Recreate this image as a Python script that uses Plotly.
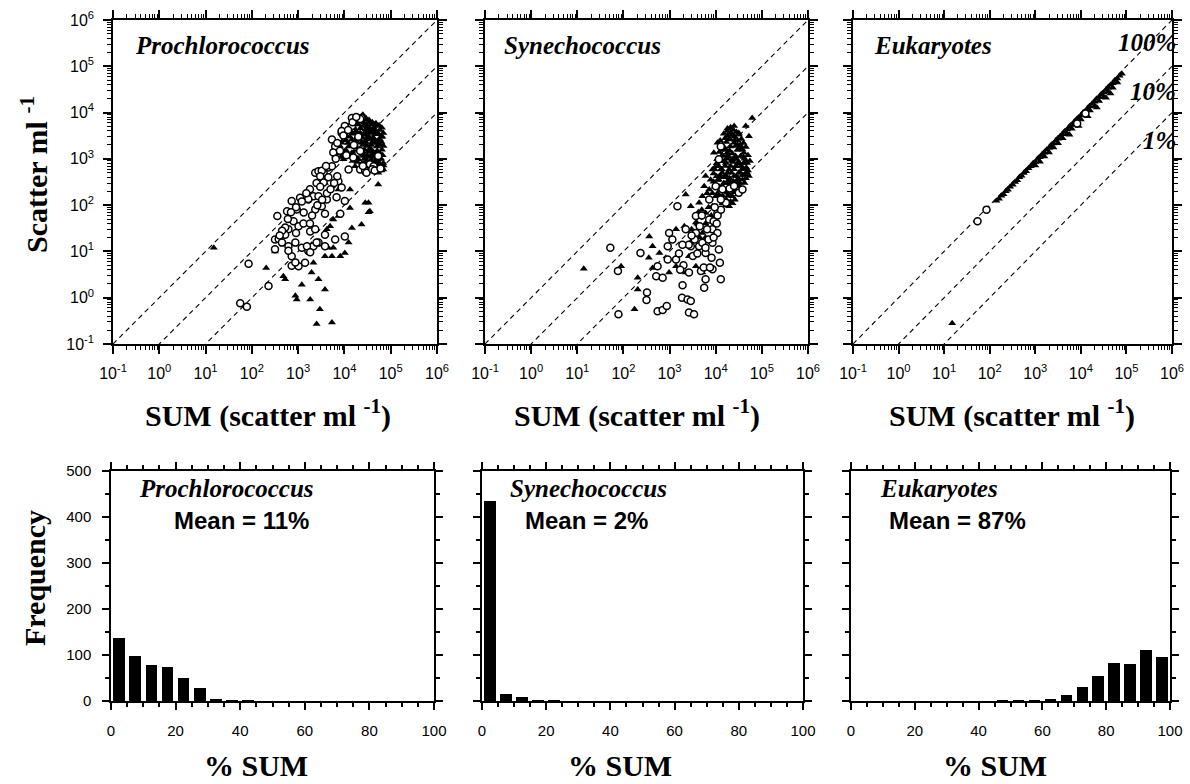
import plotly.graph_objects as go

# ------------------------------------------------------------------ data
log_tickvals = [1e-1, 1e0, 1e1, 1e2, 1e3, 1e4, 1e5, 1e6]
log_ticktext = ["10<sup>-1</sup>", "10<sup>0</sup>", "10<sup>1</sup>", "10<sup>2</sup>",
                "10<sup>3</sup>", "10<sup>4</sup>", "10<sup>5</sup>", "10<sup>6</sup>"]
ref_fracs = [1.0, 0.1, 0.01]          # 100 %, 10 %, 1 % reference lines
ref_x = [1e-1, 1e6]
ref_labels = ["100%", "10%", "1%"]

panel_names = ["Prochlorococcus", "Synechococcus", "Eukaryotes"]
mean_labels = ["Mean = 11%", "Mean = 2%", "Mean = 87%"]

# Prochlorococcus: open circles (x = SUM, y = scatter)
pro_open = [(355, 58), (575, 74), (725, 123), (1100, 145), (1660, 132), (2140, 155), (2750, 155),
            (3240, 95), (4170, 132), (10200, 123), (2340, 500), (2750, 540), (3550, 500), (4470, 650),
            (5370, 690), (7410, 330), (12300, 590), (21900, 590), (28200, 540), (35500, 760),
            (42700, 690), (617, 30), (794, 45), (1020, 35), (1820, 27), (2340, 30), (3800, 23),
            (6310, 18), (10200, 21), (617, 13), (870, 15.5), (1200, 12), (1660, 10.2), (2140, 13),
            (2750, 15.5), (725, 7.9), (1020, 4.8), (1410, 5.7), (316, 18), (525, 23), (5370, 2630),
            (6310, 1860), (8710, 3630), (14500, 5130), (20000, 1350), (53700, 1150), (14500, 7590),
            (23400, 7590), (10200, 5130), (85, 5.4), (56, 0.76), (78, 0.64), (229, 1.8), (525, 33),
            (380, 18.6), (447, 15.5), (617, 10.3), (1550, 13), (1820, 9.6), (2500, 15.5), (3800, 13),
            (724, 4.9), (870, 5.8), (933, 81), (1318, 69), (1660, 135), (2344, 81), (3800, 65),
            (6760, 148), (8130, 65), (3240, 550), (3550, 309), (8700, 240), (5750, 1380), (8700, 4000),
            (21900, 1480), (28200, 550), (21900, 7240), (15500, 1070), (316, 11.2),
            (7000, 2200), (9500, 3200), (12000, 4200), (15000, 6200), (18000, 8000), (20000, 3000),
            (16000, 2000), (11000, 1200), (30000, 500), (40000, 600), (25000, 700), (45000, 560),
            (60000, 620), (8000, 1500), (6500, 1000), (4000, 700), (3000, 420), (2500, 300),
            (3000, 250), (4500, 400), (1800, 220), (1500, 180), (1200, 120), (900, 90), (700, 70),
            (600, 50), (450, 28), (400, 22), (900, 25), (1300, 40), (1800, 40), (2000, 60),
            (2600, 100), (3300, 130), (4200, 180), (5000, 220), (6000, 300), (7000, 420)]
# Prochlorococcus: filled triangles
pro_tri = [(15, 12), (204, 4.4), (316, 10), (479, 2.9), (525, 2.5), (870, 1.1), (933, 0.92),
           (1200, 1.9), (1820, 0.92), (1950, 3.5), (2140, 5.7), (2750, 2.5), (3800, 1.5), (2950, 0.56),
           (2510, 0.27), (5370, 0.29), (3800, 7.9), (5750, 12), (8130, 7.9), (12300, 15.5), (13200, 87),
           (14500, 32), (23400, 38), (33100, 112), (35500, 74), (4900, 35), (13200, 219), (53700, 500),
           (69000, 590), (53700, 280), (4170, 30), (5750, 49), (7410, 58), (1950, 14), (4470, 12),
           (7410, 219), (5370, 257), (3800, 302), (28200, 112), (33100, 70), (10200, 9.3), (5370, 7.9),
           (6310, 1150), (7410, 1580), (8710, 2240), (11200, 3090), (13200, 3980), (15500, 5130),
           (18600, 6460), (23400, 8320), (28200, 7080), (33100, 6030), (38900, 5500), (50100, 5130),
           (64600, 4680), (69200, 3630), (12300, 1860), (17000, 2630), (21900, 3630), (28200, 4270),
           (35500, 3980), (45700, 3390), (58900, 2630), (14500, 1350), (18600, 1740), (23400, 2240),
           (30200, 2630), (38900, 2240), (50100, 1860), (64600, 1580), (20000, 977), (25700, 1150),
           (33100, 1480), (42700, 1350), (53700, 977), (69200, 813), (17000, 692), (28200, 813),
           (42700, 813), (9550, 977), (10200, 1480), (20000, 5500), (25700, 5130), (17000, 3630),
           (14500, 2630), (9000, 1300), (11000, 2500), (13000, 3000), (16000, 4500), (19000, 5800),
           (22000, 7000), (26000, 6000), (30000, 5200), (34000, 4800), (40000, 4300), (46000, 4000),
           (55000, 3400), (62000, 3000), (15000, 1900), (19000, 2300), (24000, 2900), (27000, 3300),
           (32000, 3100), (36000, 2800), (44000, 2600), (52000, 2200), (60000, 2000), (22000, 1300),
           (27000, 1600), (31000, 1900), (36000, 1700), (40000, 1500), (48000, 1200), (56000, 1100),
           (62000, 1000), (24000, 800), (30000, 950), (34000, 1100), (38000, 950), (45000, 900),
           (50000, 700), (58000, 700), (65000, 650), (18000, 1100), (21000, 1600), (26000, 2100),
           (30000, 3700), (35000, 6500), (25000, 9000), (45000, 5500),
           (14000, 5800), (17000, 6800), (20000, 7500), (24000, 7800), (29000, 7600), (34000, 6900),
           (40000, 6200), (48000, 5900), (56000, 5300), (10000, 3800), (12500, 4400), (15000, 3500),
           (18000, 4000), (22000, 4600), (26000, 3400), (31000, 4500), (37000, 3600), (43000, 4700),
           (50000, 3800), (58000, 4200), (66000, 3000), (8000, 1900), (9500, 2600), (12000, 2200),
           (14500, 2000), (17500, 2400), (21000, 2700), (25000, 2000), (29000, 2300), (33000, 2700),
           (38000, 2000), (42000, 2900), (47000, 2400), (55000, 2600), (63000, 2300), (70000, 1900),
           (7000, 1300), (8500, 1100), (11000, 1500), (13000, 1150), (16000, 1400), (19500, 1250),
           (23000, 1450), (26500, 1300), (30000, 1200), (35000, 1400), (39000, 1200), (44000, 1100),
           (51000, 1500), (59000, 1300), (67000, 1200), (15000, 900), (19000, 850), (22000, 650),
           (27000, 1000), (32000, 700), (36000, 850), (41000, 720), (47000, 640), (52000, 880),
           (57000, 800), (63000, 560), (70000, 720)]

# Synechococcus
syn_open = [(52, 12), (78, 0.44), (76, 3.8), (234, 9.3), (324, 1.3), (316, 0.89), (550, 0.51),
            (708, 0.54), (870, 0.66), (513, 2.9), (708, 2.7), (1910, 1.85), (1860, 1.0), (2450, 0.92),
            (2880, 0.85), (2630, 0.48), (3390, 0.44), (5620, 1.65), (6030, 2.5), (12900, 2.5),
            (12300, 5.7), (8130, 7.3), (1480, 95), (977, 25), (1150, 18), (912, 13), (912, 6.7),
            (1380, 6.7), (2240, 30), (3720, 25), (4370, 13), (8510, 15.4), (11700, 11), (7240, 49),
            (8510, 30), (10900, 68), (7240, 132), (16600, 112), (11700, 977), (12900, 1860),
            (31600, 186), (38000, 219), (3720, 58), (550, 4.8), (2630, 3.5), (4790, 3.8), (8510, 4.1),
            (10900, 25), (5130, 15.4), (6030, 9.3), (2880, 13), (12900, 132), (10000, 257),
            (5000, 60), (6500, 30), (9000, 45), (11000, 60), (13000, 80), (14000, 220), (9500, 90),
            (4500, 35), (3500, 18), (6000, 12), (7000, 18), (9000, 20), (10500, 40), (20000, 230),
            (25000, 260), (3000, 22), (2600, 14), (1900, 14), (1600, 9), (3200, 8), (4000, 9),
            (2000, 5), (1700, 4), (5500, 4.5), (7500, 4.5)]
syn_tri = [(13.8, 4.2), (89, 4.8), (363, 21), (427, 13), (355, 7.3), (204, 2.7), (204, 1.5),
           (174, 0.56), (427, 4.4), (977, 3.5), (1380, 4.8), (2240, 3.5), (5130, 3.5), (3720, 4.8),
           (1620, 9.3), (2630, 7.9), (2090, 35), (1380, 30), (2240, 170), (4370, 112), (5620, 257),
           (6030, 427), (8510, 589), (9120, 1350), (10900, 2240), (17800, 3980), (25100, 5130),
           (52500, 3090), (61700, 7590), (44700, 5130), (603, 9.3), (2240, 13), (3160, 18), (5130, 25),
           (3720, 42), (6030, 68), (2880, 95), (5130, 155), (7240, 219), (8510, 95), (10000, 155),
           (11700, 355), (13800, 500), (10000, 692), (7760, 355), (15100, 1580), (17800, 1350),
           (20900, 1860), (25100, 2240), (29500, 1580), (34700, 1150), (40700, 813), (47900, 500),
           (16600, 813), (19500, 589), (22900, 977), (26900, 692), (31600, 500), (38000, 355),
           (16600, 427), (20900, 302), (25100, 427), (29500, 257), (17800, 186), (15100, 112),
           (19500, 95), (22900, 155), (13800, 257), (26900, 1150), (31600, 1580), (19500, 2630),
           (25100, 3090), (31600, 3630), (40700, 1350), (47900, 813), (52500, 427), (12900, 589),
           (13800, 1150), (14000, 2000), (16000, 2800), (18000, 3200), (21000, 3600), (24000, 4200),
           (28000, 3800), (32000, 3300), (36000, 2700), (40000, 2200), (45000, 1800), (50000, 1200),
           (55000, 900), (14000, 900), (16000, 700), (18000, 1200), (20000, 1500), (23000, 1300),
           (27000, 1900), (30000, 2500), (34000, 2000), (38000, 1600), (42000, 1000), (46000, 650),
           (15000, 400), (18000, 500), (21000, 700), (24000, 850), (28000, 1000), (33000, 800),
           (37000, 600), (41000, 450), (45000, 380), (17000, 300), (20000, 380), (24000, 330),
           (28000, 200), (32000, 260), (12000, 250), (14000, 160), (17000, 130), (21000, 120),
           (25000, 190), (11000, 180), (9500, 250), (8500, 180), (12000, 420), (9000, 480),
           (10500, 800), (7000, 90), (8000, 60), (6000, 40), (7500, 140), (6500, 180), (5000, 80),
           (4200, 70), (4000, 40), (3000, 30), (4500, 20), (6000, 20), (7000, 30),
           (12000, 1400), (14500, 1700), (17000, 2300), (20000, 2800), (23000, 3300), (26000, 2600),
           (30000, 2000), (35000, 1700), (40000, 1100), (44000, 900), (11500, 700), (13500, 600),
           (15500, 900), (17500, 1000), (19500, 1100), (22000, 900), (25000, 1000), (28000, 700),
           (31000, 850), (36000, 700), (40000, 600), (46000, 500), (50000, 560), (11000, 350),
           (13000, 420), (15000, 300), (17000, 420), (19000, 340), (22000, 500), (25000, 600),
           (28000, 420), (31000, 380), (34000, 500), (38000, 450), (42000, 300), (11500, 160),
           (13500, 220), (16000, 200), (18500, 160), (21000, 250), (23500, 230), (26000, 300),
           (29000, 330), (33000, 300), (36000, 230), (14000, 110), (17000, 100), (20000, 170),
           (23000, 110), (26000, 130), (30000, 170), (9000, 320), (10500, 420), (9500, 600),
           (11000, 1000), (12500, 2500), (15000, 3500), (18000, 4500), (21000, 4800), (14000, 1200),
           (16500, 1600)]

# Eukaryotes
euk_open = [(54, 45), (85, 80), (8300, 5800), (12600, 9500)]
euk_tri = [(15, 0.28),
           (140, 125), (160, 138), (180, 160), (200, 172), (225, 200), (250, 215), (280, 250),
           (320, 275), (360, 318), (400, 345), (450, 400), (500, 430), (560, 495), (630, 540),
           (710, 630), (800, 690), (900, 800), (1000, 860), (1120, 990), (1260, 1080), (1410, 1250),
           (1580, 1360), (1780, 1570), (2000, 1720), (2240, 1980), (2510, 2160), (2820, 2490),
           (3160, 2720), (3550, 3130), (3980, 3420), (4470, 3950), (5010, 4310), (5620, 4960),
           (6310, 5420), (7080, 6250), (7940, 6830), (8910, 7870), (10000, 8600), (11200, 9900),
           (12600, 10800), (14100, 12400), (15800, 13600), (17800, 15700), (20000, 17200),
           (22400, 19800), (25100, 21600), (28200, 24900), (31600, 27200), (35500, 31300),
           (39800, 34200), (44700, 39500), (50100, 43100), (56200, 49600), (63100, 54300),
           (70800, 62500), (79400, 69000),
           (1000, 720), (1260, 870), (1580, 1120), (2000, 1380), (2510, 1770), (3160, 2180),
           (3980, 2800), (5010, 3450), (6310, 4450), (7940, 5480), (10000, 7050), (12600, 8700),
           (15800, 11100), (20000, 13800), (25100, 17700), (31600, 21800), (39800, 28000),
           (50100, 34500), (63100, 44500),
           (5620, 3300), (8910, 5100), (14100, 8300), (22400, 12900), (35500, 20800), (44700, 25800)]

# histograms (% SUM, 5 % bins)
bin_centers = [2.5, 7.5, 12.5, 17.5, 22.5, 27.5, 32.5, 37.5, 42.5, 47.5,
               52.5, 57.5, 62.5, 67.5, 72.5, 77.5, 82.5, 87.5, 92.5, 97.5]
pro_counts = [138, 98, 78, 75, 50, 28, 3, 1, 1, 0, 0, 0, 0, 0, 0, 0, 0, 0, 0, 0]
syn_counts = [435, 16, 9, 2, 1, 0, 0, 0, 0, 0, 0, 0, 0, 0, 0, 0, 0, 0, 0, 0]
euk_counts = [0, 0, 0, 0, 0, 0, 0, 0, 0, 1, 1, 2, 3, 12, 30, 55, 82, 80, 111, 95]
hist_ticks = [0, 20, 40, 60, 80, 100]
freq_ticks = [0, 100, 200, 300, 400, 500]

scatter_sets = [(pro_open, pro_tri), (syn_open, syn_tri), (euk_open, euk_tri)]
hist_sets = [pro_counts, syn_counts, euk_counts]

# ------------------------------------------------------------------ layout helpers
W, H = 1190, 784
SERIF = "Liberation Serif"
SANS = "Liberation Sans"


def fx(p):
    return p / W


def fy(p):
    return 1 - p / H


top_x_px = [(113, 437), (485, 808), (853, 1172)]
top_y_px = (20, 344)
bot_x_px = [(111, 434), (482, 803), (851, 1170)]
bot_y_px = (471, 701)

fig = go.Figure()

axis_common = dict(showline=True, linecolor="black", linewidth=1.5, mirror="allticks",
                   ticks="outside", tickcolor="black", tickwidth=1.5, showgrid=False,
                   zeroline=False, automargin=False,
                   tickfont=dict(family=SANS, size=16, color="black"))

layout_axes = {}
for i in range(3):
    xa = f"x{i + 1}" if i else "x"
    ya = f"y{i + 1}" if i else "y"
    opens, tris = scatter_sets[i]
    for f in ref_fracs:
        fig.add_trace(go.Scatter(x=ref_x, y=[f * v for v in ref_x], mode="lines",
                                 line=dict(color="black", width=1.1, dash="5px,4px"),
                                 xaxis=xa, yaxis=ya, hoverinfo="skip"))
    fig.add_trace(go.Scatter(x=[p[0] for p in tris], y=[p[1] for p in tris], mode="markers",
                             marker=dict(symbol="triangle-up", size=7, color="black"),
                             xaxis=xa, yaxis=ya))
    fig.add_trace(go.Scatter(x=[p[0] for p in opens], y=[p[1] for p in opens], mode="markers",
                             marker=dict(symbol="circle", size=7, color="white",
                                         line=dict(width=1.5, color="black")),
                             xaxis=xa, yaxis=ya))
    log_ax = dict(axis_common, type="log", range=[-1, 6], tickmode="array",
                  tickvals=log_tickvals, ticktext=log_ticktext, ticklen=8,
                  ticklabelstandoff=6,
                  minor=dict(ticks="outside", ticklen=4, dtick="D1", tickcolor="black",
                             tickwidth=1, showgrid=False))
    key = "" if i == 0 else str(i + 1)
    layout_axes["xaxis" + key] = dict(log_ax, domain=[fx(top_x_px[i][0]), fx(top_x_px[i][1])],
                                      anchor=ya)
    layout_axes["yaxis" + key] = dict(log_ax, domain=[fy(top_y_px[1]), fy(top_y_px[0])],
                                      anchor=xa, showticklabels=(i == 0))

    j = i + 4
    hx, hy = f"x{j}", f"y{j}"
    fig.add_trace(go.Bar(x=bin_centers, y=hist_sets[i], width=3.6,
                         marker=dict(color="black", line=dict(width=0)),
                         xaxis=hx, yaxis=hy))
    layout_axes[f"xaxis{j}"] = dict(axis_common, range=[0, 100], tickvals=hist_ticks,
                                   ticklen=7, ticklabelstandoff=8,
                                   tickfont=dict(family=SANS, size=15, color="black"),
                                   minor=dict(ticks="outside", ticklen=4, dtick=5,
                                              tickcolor="black", showgrid=False),
                                   domain=[fx(bot_x_px[i][0]), fx(bot_x_px[i][1])], anchor=hy)
    layout_axes[f"yaxis{j}"] = dict(axis_common, range=[0, 500], tickvals=freq_ticks,
                                   ticklen=7, ticklabelstandoff=8,
                                   tickfont=dict(family=SANS, size=15, color="black"),
                                   minor=dict(ticks="outside", ticklen=4, dtick=50,
                                              tickcolor="black", showgrid=False),
                                   showticklabels=(i == 0),
                                   domain=[fy(bot_y_px[1]), fy(bot_y_px[0])], anchor=hx)

# ------------------------------------------------------------------ text
ann = []
title_font = dict(family=SERIF, size=30, color="black", weight="bold")
ital_font = dict(family=SERIF, size=25, color="black", style="italic", weight="bold")

ann.append(dict(x=fx(34), y=fy(175), text="Scatter ml <sup>-1</sup>", textangle=-90,
                font=title_font))
ann.append(dict(x=fx(34), y=fy(578), text="Frequency", textangle=-90, font=title_font))
for cx in [268, 637, 1012]:
    ann.append(dict(x=fx(cx), y=fy(413), text="SUM (scatter ml <sup>-1</sup>)", font=title_font))
for cx in [256, 620, 995]:
    ann.append(dict(x=fx(cx), y=fy(765), text="% SUM", font=title_font))
for lx, name in zip([133, 502, 872], panel_names):
    ann.append(dict(x=fx(lx), y=fy(45), text=name, xanchor="left", font=ital_font))
for lx, name in zip([137, 508, 878], panel_names):
    ann.append(dict(x=fx(lx), y=fy(488), text=name, xanchor="left", font=ital_font))
for lx, m in zip([172, 523, 887], mean_labels):
    ann.append(dict(x=fx(lx), y=fy(520), text=m, xanchor="left",
                    font=dict(family=SANS, size=24, color="black", weight="bold")))
for ly, lab in zip([43, 91, 140], ref_labels):
    ann.append(dict(x=fx(1178), y=fy(ly), text=lab, xanchor="right", font=ital_font))

for a in ann:
    a.update(xref="paper", yref="paper", showarrow=False)
    a.setdefault("xanchor", "center")
    a.setdefault("yanchor", "middle")

fig.update_layout(width=W, height=H, margin=dict(l=0, r=0, t=0, b=0, autoexpand=False),
                  paper_bgcolor="white", plot_bgcolor="white", showlegend=False,
                  annotations=ann, bargap=0, **layout_axes)

fig.write_html("out.html", config={"displayModeBar": False},
               post_script="document.body.style.margin='0';")
